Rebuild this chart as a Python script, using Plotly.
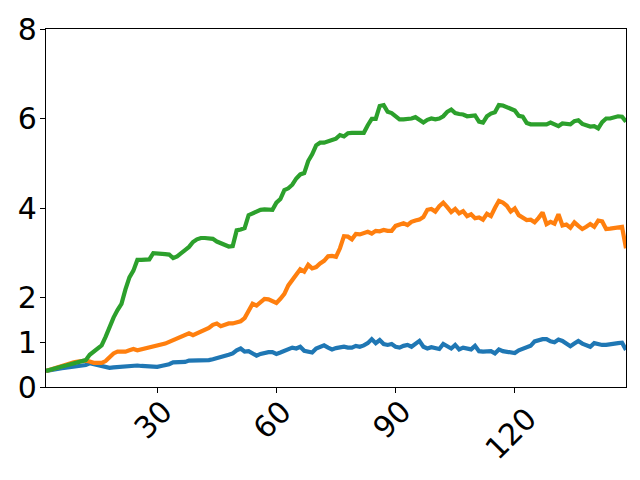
import plotly.graph_objects as go

steps = list(range(2, 149))

blue = [0.36, 0.38, 0.40, 0.41, 0.42, 0.43, 0.44, 0.45, 0.46, 0.47,
        0.49, 0.53, 0.51, 0.49, 0.49, 0.47, 0.43, 0.44, 0.45, 0.46,
        0.47, 0.48, 0.49, 0.48, 0.47, 0.46, 0.45, 0.44, 0.45, 0.47,
        0.48, 0.51, 0.55, 0.55, 0.55, 0.56, 0.59, 0.59, 0.58, 0.60,
        0.60, 0.60, 0.62, 0.64, 0.66, 0.68, 0.72, 0.75, 0.82, 0.86,
        0.79, 0.80, 0.76, 0.70, 0.74, 0.77, 0.78, 0.78, 0.74, 0.77,
        0.81, 0.86, 0.88, 0.86, 0.90, 0.81, 0.78, 0.77, 0.86, 0.90,
        0.93, 0.88, 0.84, 0.87, 0.89, 0.90, 0.88, 0.88, 0.92, 0.90,
        0.93, 0.98, 1.07, 0.98, 1.05, 0.96, 0.94, 0.96, 0.90, 0.88,
        0.92, 0.94, 0.90, 0.97, 1.03, 0.90, 0.86, 0.89, 0.86, 0.85,
        0.96, 0.90, 0.86, 0.94, 0.84, 0.88, 0.86, 0.84, 0.92, 0.80,
        0.79, 0.79, 0.80, 0.75, 0.84, 0.80, 0.79, 0.78, 0.76, 0.82,
        0.86, 0.88, 0.92, 1.02, 1.05, 1.07, 1.07, 1.02, 1.00, 1.06,
        1.03, 0.98, 0.91, 0.97, 1.03, 0.97, 0.93, 0.90, 0.98, 0.95,
        0.94, 0.94, 0.96, 0.98, 0.98, 0.99, 0.83]

orange = [0.36, 0.39, 0.42, 0.45, 0.48, 0.51, 0.53, 0.55, 0.57, 0.58,
          0.59, 0.57, 0.54, 0.54, 0.54, 0.58, 0.66, 0.75, 0.79, 0.79,
          0.79, 0.82, 0.85, 0.82, 0.84, 0.86, 0.88, 0.92, 0.93, 0.95,
          0.97, 1.01, 1.05, 1.09, 1.14, 1.18, 1.20, 1.16, 1.20, 1.23,
          1.26, 1.32, 1.39, 1.42, 1.36, 1.40, 1.42, 1.42, 1.44, 1.47,
          1.54, 1.72, 1.86, 1.82, 1.90, 1.97, 1.96, 1.93, 1.88, 1.97,
          2.08, 2.27, 2.40, 2.54, 2.63, 2.58, 2.73, 2.65, 2.68, 2.76,
          2.82, 2.92, 2.93, 2.91, 3.10, 3.37, 3.36, 3.30, 3.42, 3.41,
          3.43, 3.47, 3.43, 3.49, 3.48, 3.51, 3.49, 3.49, 3.60, 3.63,
          3.66, 3.62, 3.69, 3.72, 3.74, 3.80, 3.96, 3.98, 3.92, 4.04,
          4.12, 4.02, 3.91, 3.98, 3.88, 3.93, 3.82, 3.86, 3.77, 3.79,
          3.74, 3.87, 3.82, 4.00, 4.16, 4.12, 4.05, 3.92, 3.99, 3.84,
          3.78, 3.73, 3.74, 3.68, 3.78, 3.90, 3.64, 3.69, 3.65, 3.86,
          3.61, 3.63, 3.56, 3.68, 3.60, 3.53, 3.58, 3.64, 3.58, 3.72,
          3.70, 3.53, 3.54, 3.55, 3.57, 3.58, 3.10]

green = [0.36, 0.39, 0.41, 0.43, 0.46, 0.48, 0.50, 0.53, 0.55, 0.57,
         0.60, 0.72, 0.79, 0.85, 0.93, 1.12, 1.35, 1.55, 1.72, 1.86,
         2.18, 2.45, 2.60, 2.84, 2.84, 2.84, 2.85, 2.99, 2.99, 2.97,
         2.97, 2.96, 2.88, 2.92, 2.98, 3.06, 3.13, 3.24, 3.30, 3.33,
         3.33, 3.32, 3.31, 3.25, 3.21, 3.19, 3.14, 3.15, 3.50, 3.52,
         3.55, 3.84, 3.88, 3.94, 3.96, 3.97, 3.96, 3.96, 4.12, 4.20,
         4.40, 4.44, 4.52, 4.66, 4.75, 4.78, 5.05, 5.20, 5.40, 5.46,
         5.46, 5.48, 5.52, 5.55, 5.63, 5.60, 5.67, 5.68, 5.68, 5.67,
         5.68, 5.85, 5.99, 5.99, 6.28, 6.30, 6.15, 6.12, 6.05, 5.98,
         5.98, 5.98, 6.00, 6.03, 5.97, 5.91, 5.97, 6.00, 5.98, 6.00,
         6.05, 6.15, 6.20, 6.12, 6.10, 6.09, 6.05, 6.05, 6.07, 5.93,
         5.91, 6.05, 6.11, 6.14, 6.30, 6.29, 6.26, 6.21, 6.18, 6.06,
         6.04, 5.90, 5.87, 5.87, 5.87, 5.85, 5.87, 5.91, 5.86, 5.83,
         5.89, 5.88, 5.87, 5.94, 5.96, 5.88, 5.84, 5.82, 5.83, 5.78,
         5.92, 6.00, 6.00, 6.02, 6.05, 6.04, 5.93]

x_ticks = [30, 60, 90, 120]
y_ticks = [0, 1, 2, 4, 6, 8]

series = [("blue", blue, "#1f77b4"), ("orange", orange, "#ff7f0e"), ("green", green, "#2ca02c")]

fig = go.Figure()
for name, vals, col in series:
    fig.add_trace(go.Scatter(x=steps, y=vals, mode="lines", name=name,
                             line=dict(color=col, width=4.2)))

font = dict(family="DejaVu Sans", size=30, color="black")

# rotated tick labels, top-aligned like the original (longer labels sit lower)
for t in x_ticks:
    label = str(t)
    fig.add_annotation(x=t, xref="x", y=-0.045, yref="paper", text=label,
                       showarrow=False, textangle=-45, xanchor="center",
                       yanchor="top", font=font, xshift=-4,
                       yshift=12 - 7 * (len(label) - 2))

fig.update_layout(
    width=640, height=480,
    margin=dict(l=38, r=22, t=21, b=101, autoexpand=False),
    paper_bgcolor="white", plot_bgcolor="white",
    showlegend=False,
    xaxis=dict(range=[steps[0], steps[-1]], tickvals=x_ticks, showticklabels=False,
               ticks="outside", ticklen=5, tickcolor="black", tickwidth=1.2,
               showline=True, linecolor="black", linewidth=1.3, mirror=True,
               showgrid=False, zeroline=False, automargin=False),
    yaxis=dict(range=[0, 8], tickvals=y_ticks, ticktext=[str(v) for v in y_ticks],
               ticks="outside", ticklen=5, tickcolor="black", tickwidth=1.2,
               showline=True, linecolor="black", linewidth=1.3, mirror=True,
               showgrid=False, zeroline=False, tickfont=font, automargin=False,
               ticklabelstandoff=-3),
)

fig.write_html("out.html")
